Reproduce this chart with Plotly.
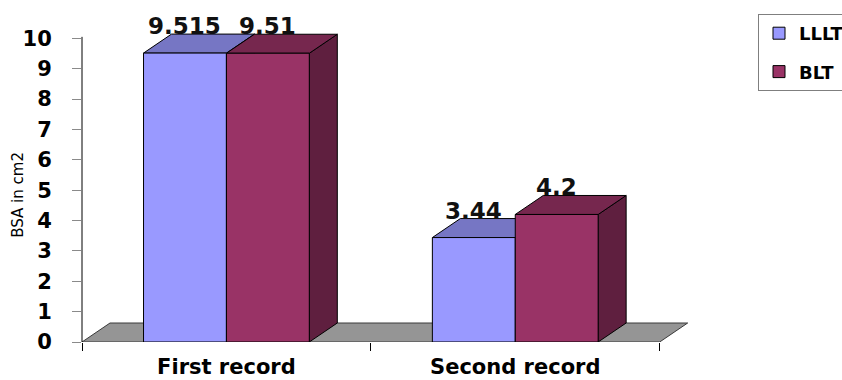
import plotly.graph_objects as go

# ---- data ----
categories = ["First record", "Second record"]
series_names = ["LLLT", "BLT"]
lllt_values = [9.515, 3.44]
blt_values = [9.51, 4.2]
y_ticks = list(range(0, 11))
y_title = "BSA in cm2"

# ---- styling ----
FONT = "DejaVu Sans"
front_colors = ["#9999FF", "#993366"]
top_colors = ["#7676C4", "#76274E"]
side_colors = ["#5C5CA0", "#5F1F3F"]
floor_color = "#959595"

W, H = 842, 380
ml, mr, mt, mb = 82, 139, 8, 38
x_range = [-0.5, 1.65]
y_range = [0, 11]
plot_w = W - ml - mr
plot_h = H - mt - mb
px_x = plot_w / (x_range[1] - x_range[0])
px_y = plot_h / (y_range[1] - y_range[0])
DX = 28 / px_x   # depth offset in category units
DY = 19 / px_y   # depth offset in value units

bargap = 0.426
bw = (1 - bargap) / 2
series_values = [lllt_values, blt_values]
offsets = [-bw, 0.0]

fig = go.Figure()
for name, vals, col, off in zip(series_names, series_values, front_colors, offsets):
    fig.add_trace(go.Bar(
        name=name, x=list(range(len(categories))), y=vals,
        marker=dict(color=col, line=dict(color="black", width=1)),
        legendgroup=name,
    ))

shapes = []
def poly(pts, fill):
    path = "M " + " L ".join(f"{x},{y}" for x, y in pts) + " Z"
    return dict(type="path", path=path, xref="x", yref="y", layer="between",
                fillcolor=fill, line=dict(color="black", width=1))

# floor
n = len(categories)
shapes.append(dict(type="path",
                   path=(f"M {x_range[0]},0 L {n - 0.5},0 L {n - 0.5 + DX},{DY} "
                         f"L {x_range[0] + DX},{DY} Z"),
                   xref="x", yref="y", layer="between", fillcolor=floor_color,
                   line=dict(color="#3a3a3a", width=1)))

annotations = []
for i in range(n):
    for s, (vals, off) in enumerate(zip(series_values, offsets)):
        v = vals[i]
        x0 = i + off
        x1 = x0 + bw
        # side face
        shapes.append(poly([(x1, 0), (x1, v), (x1 + DX, v + DY), (x1 + DX, DY)], side_colors[s]))
        # top face
        shapes.append(poly([(x0, v), (x1, v), (x1 + DX, v + DY), (x0 + DX, v + DY)], top_colors[s]))
        annotations.append(dict(x=(x0 + x1) / 2, y=v + DY, xref="x", yref="y",
                                text=f"{v:g}", showarrow=False, yanchor="middle",
                                yshift=8, font=dict(family=FONT, size=23, color="#111111",
                                                    weight="bold")))

# y axis line
shapes.append(dict(type="line", xref="paper", yref="y", x0=0, x1=0, y0=0, y1=10.05,
                   line=dict(color="black", width=1)))

annotations.append(dict(x=0, xref="paper", xshift=-64, y=4.85, yref="y",
                        text=y_title, textangle=-90, showarrow=False,
                        xanchor="center", yanchor="middle",
                        font=dict(family=FONT, size=15, color="black")))

fig.update_layout(
    width=W, height=H,
    margin=dict(l=ml, r=mr, t=mt, b=mb, autoexpand=False),
    paper_bgcolor="white", plot_bgcolor="rgba(0,0,0,0)",
    barmode="group", bargap=bargap, bargroupgap=0,
    shapes=shapes, annotations=annotations,
    showlegend=True,
    legend=dict(xref="container", yref="container", x=758 / W, y=1 - 14 / H,
                xanchor="left", yanchor="top", bgcolor="white",
                bordercolor="#7f7f7f", borderwidth=1,
                traceorder="grouped", tracegroupgap=12,
                font=dict(family=FONT, size=18, color="black", weight="bold")),
    font=dict(family=FONT, color="black"),
    xaxis=dict(range=x_range, showgrid=False, zeroline=False, showline=False,
               tickmode="array", tickvals=list(range(n)), ticktext=categories,
               ticks="", ticklabelstandoff=10,
               tickfont=dict(family=FONT, size=21, color="black", weight="bold"),
               minor=dict(tickmode="array", tickvals=[i - 0.5 for i in range(n + 1)],
                          ticks="outside", ticklen=8, tickcolor="black", tickwidth=1,
                          showgrid=False)),
    yaxis=dict(range=y_range, showgrid=False, zeroline=False, showline=False,
               tickmode="array", tickvals=y_ticks, ticks="outside", ticklen=9,
               tickcolor="#8a8a8a", ticklabelstandoff=16,
               tickfont=dict(family=FONT, size=21, color="black", weight="bold")),
)

fig.write_html("out.html")
